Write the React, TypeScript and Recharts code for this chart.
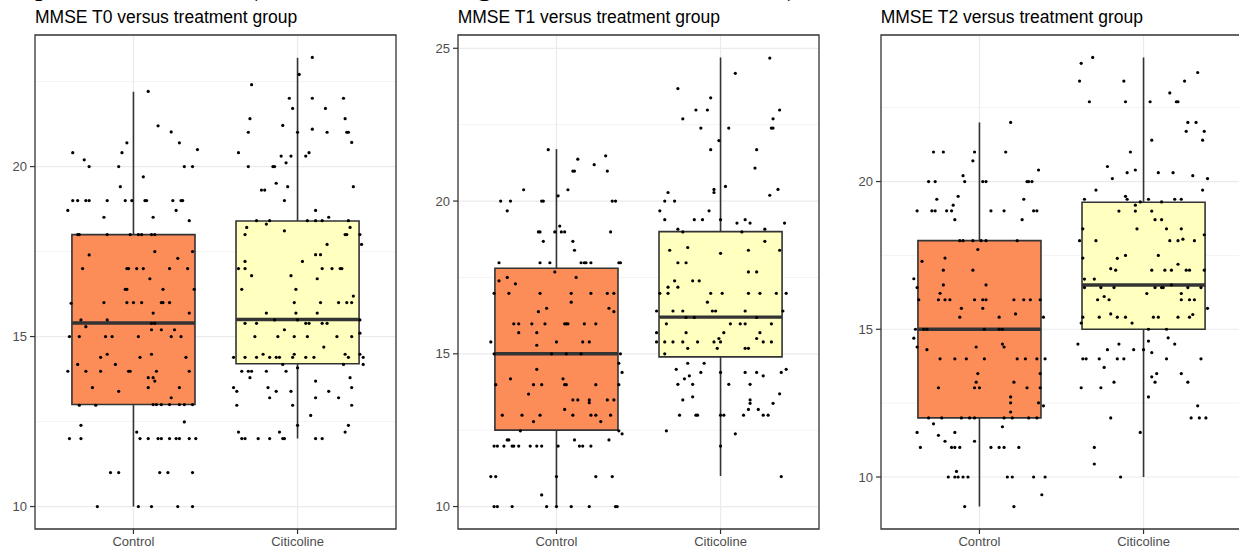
import React from 'react';
import { ComposedChart, Scatter, XAxis, YAxis, CartesianGrid, ReferenceArea, ReferenceLine } from 'recharts';

const groups = ['Control', 'Citicoline'];
const groupFills = ['#FC8D59', '#FFFFBF'];

// [lower whisker, Q1, median, Q3, upper whisker]
const t0Stats = [
  [10, 13, 15.4, 18, 22.2],
  [12, 14.2, 15.5, 18.4, 23.2],
];
const t1Stats = [
  [10, 12.5, 15, 17.8, 21.7],
  [11, 14.9, 16.2, 19, 24.7],
];
const t2Stats = [
  [9, 12, 15, 18, 22],
  [10, 15, 16.5, 19.3, 24.2],
];

const t0Ticks = [10, 15, 20];
const t1Ticks = [10, 15, 20, 25];
const t2Ticks = [10, 15, 20];
const t0Minor = [12.5, 17.5, 22.5];
const t1Minor = [12.5, 17.5, 22.5];
const t2Minor = [12.5, 17.5, 22.5];

// jittered points: [horizontal jitter, MMSE]
const t0Control = [
  [0.09, 22.21], [0.15, 21.2], [0.23, 21.02], [0.28, 20.7], [0.39, 20.5], [-0.37, 20.41], [-0.3, 20.2], [-0.27, 20.0], [-0.09, 20.0], [-0.07, 20.41], [-0.04, 20.7], [0.31, 20.0], [0.36, 20.0], [0.06, 19.7], [-0.08, 19.41],
  [-0.37, 19.0], [-0.34, 19.0], [-0.29, 19.0], [-0.27, 19.0], [-0.16, 19.0], [-0.05, 19.0], [-0.01, 19.0], [0.07, 19.0], [0.08, 19.0], [0.24, 19.0], [0.29, 19.0], [0.3, 19.0],
  [-0.4, 18.71], [0.26, 18.71], [-0.18, 18.51], [0.12, 18.51], [0.34, 18.41],
  [-0.34, 18.0], [-0.33, 18.0], [-0.16, 18.0], [-0.02, 18.0], [0.03, 18.0], [0.05, 18.0], [0.11, 18.0], [0.13, 18.0],
  [-0.27, 17.4], [0.13, 17.5], [0.27, 17.3], [0.36, 17.5],
  [-0.31, 17.0], [-0.04, 17.0], [-0.03, 17.0], [0.02, 17.0], [0.06, 17.0], [0.22, 17.0], [0.33, 17.0],
  [0.1, 16.7], [0.37, 16.39], [-0.05, 16.39], [-0.04, 16.39], [0.18, 16.39],
  [-0.38, 15.98], [-0.18, 16.0], [-0.04, 16.0], [0.0, 16.0], [0.05, 16.0], [0.17, 16.0], [0.18, 16.0], [0.22, 16.0],
  [0.34, 15.69], [0.12, 15.69], [-0.32, 15.49], [-0.16, 15.49], [-0.29, 15.29], [0.11, 15.39], [0.13, 15.39], [0.17, 15.2], [0.25, 15.2], [0.11, 15.2],
  [-0.39, 15.0], [-0.33, 15.0], [-0.17, 15.0], [-0.13, 15.0], [0.03, 15.0], [0.23, 15.0], [0.29, 15.0],
  [-0.16, 14.48], [0.11, 14.48], [-0.2, 14.39], [0.04, 14.39], [0.32, 14.39], [-0.34, 14.18], [-0.11, 14.18],
  [-0.4, 13.98], [-0.29, 13.98], [-0.2, 13.98], [-0.03, 13.98], [-0.02, 13.98], [0.14, 13.98], [0.34, 13.98],
  [0.09, 13.79], [0.12, 13.79], [0.13, 13.69], [-0.25, 13.5], [0.09, 13.5], [0.28, 13.5], [-0.09, 13.39], [0.23, 13.2],
  [-0.33, 12.98], [-0.23, 12.98], [0.12, 13.0], [0.14, 13.0], [0.17, 13.0], [0.22, 13.0], [0.28, 13.0], [0.31, 13.0], [0.36, 13.0],
  [0.31, 12.49], [-0.32, 12.39], [-0.39, 12.0], [-0.32, 12.0], [0.02, 12.19],
  [0.04, 12.0], [0.09, 12.0], [0.15, 12.0], [0.17, 12.0], [0.22, 12.0], [0.26, 12.0], [0.28, 12.0], [0.34, 12.0], [0.38, 12.0],
  [-0.14, 11.0], [-0.09, 11.0], [0.16, 11.0], [0.21, 11.0], [0.36, 11.0],
  [-0.22, 10.0], [0.03, 10.0], [0.11, 10.0], [0.27, 10.0], [0.36, 10.0],
];

const t0Citicoline = [
  [0.09, 23.21], [0.01, 22.71], [-0.28, 22.41], [-0.05, 22.01], [0.09, 22.01], [0.28, 22.01], [-0.03, 21.71], [0.17, 21.71], [-0.29, 21.41], [0.29, 21.41], [-0.09, 21.21],
  [-0.3, 21.01], [0.0, 21.01], [0.09, 21.1], [0.18, 21.01], [0.3, 21.01], [0.31, 21.01], [0.33, 20.71], [-0.36, 20.41],
  [-0.1, 20.31], [-0.04, 20.31], [0.05, 20.31], [0.07, 20.41], [-0.07, 20.11], [-0.3, 20.0], [-0.15, 20.0], [-0.14, 20.0],
  [-0.13, 19.51], [-0.06, 19.41], [0.34, 19.41], [-0.22, 19.31], [-0.2, 19.31], [-0.08, 19.0], [0.11, 18.71], [0.19, 18.51],
  [-0.25, 18.41], [-0.19, 18.31], [-0.17, 18.41], [0.06, 18.41], [0.11, 18.41], [0.15, 18.41], [0.31, 18.41],
  [-0.31, 18.21], [0.32, 18.21], [-0.08, 18.11], [-0.32, 18.0], [0.29, 18.0], [0.3, 18.0], [0.38, 18.0],
  [0.39, 17.71], [0.18, 17.71], [0.11, 17.41], [0.14, 17.41], [-0.32, 17.21], [0.03, 17.21],
  [-0.36, 17.0], [-0.32, 17.0], [0.15, 17.0], [0.21, 17.0], [0.26, 17.0], [0.27, 17.0], [0.12, 16.7],
  [-0.28, 16.79], [-0.34, 16.39], [-0.04, 16.79], [-0.01, 16.39], [0.34, 16.19],
  [-0.02, 16.0], [0.14, 16.0], [0.25, 16.0], [0.3, 16.0], [0.33, 16.0],
  [-0.19, 15.69], [-0.01, 15.69], [0.12, 15.69], [-0.14, 15.49], [0.0, 15.49],
  [-0.32, 15.39], [-0.25, 15.39], [0.05, 15.39], [0.07, 15.39], [0.15, 15.39], [0.18, 15.39], [0.38, 15.49], [0.38, 15.1], [-0.08, 15.2],
  [-0.26, 15.0], [-0.12, 15.0], [-0.02, 15.0], [0.06, 15.0], [0.24, 15.0], [0.33, 15.0],
  [0.16, 14.69], [-0.21, 14.48], [-0.02, 14.48], [0.29, 14.48], [0.38, 14.48],
  [-0.39, 14.39], [-0.32, 14.39], [-0.25, 14.39], [-0.17, 14.39], [-0.13, 14.39], [-0.11, 14.39], [-0.03, 14.39], [0.05, 14.39], [0.1, 14.39], [0.31, 14.39], [0.4, 14.39],
  [-0.09, 14.18], [0.28, 14.18], [0.4, 14.18],
  [-0.34, 13.98], [-0.3, 13.98], [-0.28, 13.98], [-0.19, 13.98], [-0.07, 13.98], [0.0, 14.08],
  [-0.29, 13.79], [0.32, 13.79], [0.11, 13.69], [-0.39, 13.5], [-0.18, 13.5], [0.33, 13.5],
  [-0.37, 13.39], [-0.13, 13.39], [-0.04, 13.39], [0.19, 13.39], [-0.17, 13.2], [0.11, 13.2], [0.25, 13.2],
  [-0.37, 12.98], [-0.03, 12.98], [0.33, 12.98], [0.08, 12.68], [0.0, 12.39], [0.31, 12.39],
  [-0.36, 12.19], [-0.11, 12.19], [0.29, 12.19],
  [-0.34, 12.0], [-0.32, 12.0], [-0.24, 12.0], [-0.17, 12.0], [-0.09, 12.0], [-0.08, 12.0], [0.11, 12.0], [0.15, 12.0],
];

const t1Control = [
  [-0.05, 21.68], [0.3, 21.48], [0.13, 21.37], [0.23, 21.19], [0.31, 20.98], [0.1, 20.98], [0.11, 20.98], [0.07, 20.37], [-0.2, 20.37], [0.01, 20.17],
  [-0.34, 20.0], [-0.28, 20.0], [-0.09, 20.0], [-0.08, 20.0], [0.34, 20.0], [0.36, 20.0], [-0.3, 19.68], [0.02, 19.18],
  [-0.11, 18.99], [-0.1, 18.99], [-0.01, 18.99], [0.03, 18.99], [0.05, 18.99], [0.33, 18.99], [-0.08, 18.68], [0.1, 18.68], [0.11, 18.39],
  [-0.35, 17.98], [-0.1, 17.98], [-0.04, 17.98], [0.15, 17.98], [0.17, 17.98], [0.18, 17.98], [0.21, 17.98], [0.38, 17.98], [0.39, 17.98], [-0.01, 17.68],
  [-0.3, 17.5], [-0.35, 17.39], [-0.25, 17.29], [0.12, 17.5],
  [-0.38, 16.98], [-0.29, 16.98], [-0.1, 16.98], [0.09, 16.98], [0.21, 16.98], [0.31, 16.98], [0.35, 16.98], [0.09, 16.69],
  [-0.11, 16.38], [-0.06, 16.49], [0.32, 16.49], [0.35, 16.38],
  [-0.26, 15.98], [-0.23, 15.98], [-0.15, 15.98], [-0.07, 15.98], [0.05, 15.98], [0.06, 15.98], [0.07, 15.98], [0.17, 15.98], [0.24, 15.98],
  [-0.23, 15.69], [-0.12, 15.69], [-0.4, 15.39], [-0.12, 15.28], [0.0, 15.39], [0.16, 15.39], [0.2, 15.39],
  [-0.38, 15.0], [-0.03, 15.0], [0.06, 15.0], [0.15, 15.0], [0.39, 15.0],
  [0.38, 14.69], [-0.12, 14.49], [0.4, 14.39], [-0.28, 14.18], [0.04, 14.18],
  [-0.37, 13.99], [-0.14, 13.99], [-0.09, 13.99], [0.05, 13.99], [0.06, 13.99], [0.24, 13.99], [0.38, 13.99],
  [-0.17, 13.68], [0.1, 13.49], [0.13, 13.49], [0.2, 13.49], [0.2, 13.4], [0.31, 13.49], [0.35, 13.49], [0.05, 13.18],
  [-0.33, 12.99], [-0.21, 12.99], [-0.1, 12.99], [0.1, 12.99], [0.21, 12.99], [0.24, 12.99], [0.33, 12.99],
  [-0.14, 12.78], [0.27, 12.78], [-0.22, 12.48], [0.38, 12.48], [0.4, 12.38],
  [-0.3, 12.18], [-0.29, 12.18], [0.11, 12.18], [0.32, 12.18],
  [-0.38, 11.98], [-0.36, 11.98], [-0.32, 11.98], [-0.27, 11.98], [-0.26, 11.98], [-0.23, 11.98], [-0.16, 11.98], [-0.12, 11.98], [-0.09, 11.98], [0.01, 11.98], [0.14, 11.98], [0.16, 11.98], [0.21, 11.98],
  [-0.4, 10.98], [-0.37, 10.98], [0.0, 10.98], [0.24, 10.98], [0.34, 10.98], [-0.09, 10.38],
  [-0.38, 10.0], [-0.36, 10.0], [-0.27, 10.0], [-0.06, 10.0], [0.0, 10.0], [0.09, 10.0], [0.2, 10.0], [0.36, 10.0], [0.37, 10.0],
];

const t1Citicoline = [
  [0.3, 24.68], [0.09, 24.18], [-0.26, 23.68], [-0.06, 23.38], [-0.15, 22.98], [-0.08, 22.98], [0.36, 22.98], [-0.23, 22.69], [0.32, 22.69],
  [-0.12, 22.39], [0.05, 22.39], [0.31, 22.39], [0.32, 22.39], [-0.01, 21.98], [-0.06, 21.68], [0.22, 21.68], [0.21, 21.08],
  [0.03, 20.48], [-0.04, 20.28], [-0.04, 20.38], [0.35, 20.38], [0.3, 20.19], [-0.32, 20.28], [-0.34, 20.0], [-0.28, 20.0], [-0.37, 19.68], [-0.07, 19.68],
  [-0.34, 19.39], [-0.16, 19.39], [-0.11, 19.39], [0.0, 19.39], [0.1, 19.28], [0.15, 19.39], [0.18, 19.28], [0.39, 19.28],
  [-0.26, 19.08], [-0.23, 18.99], [0.13, 18.99], [0.27, 19.08], [0.27, 18.68], [0.17, 18.39], [0.36, 18.39], [-0.31, 18.39], [-0.2, 18.48], [0.0, 18.29],
  [-0.26, 17.98], [-0.21, 17.98], [0.17, 17.68], [0.22, 17.68],
  [-0.28, 17.39], [-0.26, 17.18], [-0.32, 17.18], [-0.17, 17.39], [-0.13, 17.39],
  [-0.37, 16.98], [-0.32, 16.98], [-0.06, 16.98], [0.01, 16.98], [0.17, 16.98], [0.24, 16.98], [0.34, 16.98], [0.4, 16.98], [-0.08, 16.69],
  [-0.39, 16.4], [-0.29, 16.4], [-0.23, 16.4], [-0.05, 16.4], [-0.03, 16.4], [0.15, 16.4], [0.38, 16.4], [-0.21, 16.19], [-0.16, 16.19], [0.22, 16.19],
  [-0.33, 15.98], [0.06, 15.98], [0.12, 15.98], [0.15, 15.98], [0.31, 15.98], [-0.39, 15.69], [-0.21, 15.69], [0.24, 15.69], [0.02, 15.69],
  [-0.39, 15.39], [-0.34, 15.39], [-0.29, 15.39], [-0.23, 15.39], [-0.14, 15.39], [-0.04, 15.39], [-0.01, 15.5], [0.0, 15.39], [0.22, 15.5], [0.26, 15.39], [0.31, 15.39],
  [-0.2, 15.18], [-0.02, 15.18], [0.15, 15.18], [0.17, 15.18], [-0.34, 15.0],
  [-0.2, 14.69], [-0.1, 14.69], [-0.27, 14.49], [0.0, 14.39], [0.15, 14.39], [0.22, 14.39], [0.37, 14.39], [0.4, 14.49], [-0.12, 14.39],
  [-0.22, 14.18], [-0.19, 14.28], [0.26, 14.28], [-0.26, 14.0], [-0.17, 14.0], [0.05, 14.0], [0.18, 14.0],
  [-0.17, 13.59], [0.36, 13.69], [-0.23, 13.49], [0.18, 13.49], [0.18, 13.38], [0.32, 13.38], [0.23, 13.18], [0.17, 13.18],
  [-0.25, 12.99], [-0.15, 12.99], [-0.14, 12.99], [0.0, 12.99], [0.02, 12.99], [0.14, 12.99], [0.26, 12.99], [0.29, 12.99],
  [-0.33, 12.48], [0.09, 12.38], [0.0, 11.98], [0.37, 10.98],
];

const t2Control = [
  [0.19, 22.0], [-0.28, 21.0], [-0.22, 21.0], [-0.03, 21.0], [0.16, 21.0], [-0.04, 20.7], [0.36, 20.39], [-0.1, 20.2], [-0.09, 20.0],
  [-0.31, 20.0], [-0.27, 20.0], [0.02, 20.0], [0.04, 20.0], [0.29, 20.0], [0.3, 20.0], [0.32, 20.0],
  [-0.13, 19.5], [-0.26, 19.4], [0.27, 19.4], [-0.16, 19.2],
  [-0.38, 19.01], [-0.29, 19.01], [-0.27, 19.01], [-0.2, 19.01], [-0.17, 19.01], [0.07, 19.01], [0.15, 19.01], [0.33, 19.01], [0.35, 19.01],
  [-0.15, 18.71], [0.26, 18.71],
  [-0.12, 18.0], [-0.1, 18.0], [-0.04, 18.0], [0.01, 18.0], [0.04, 18.0], [0.23, 18.0], [-0.01, 17.7], [-0.35, 17.3], [-0.21, 17.41], [-0.22, 17.0], [-0.04, 17.0], [-0.4, 16.71],
  [-0.38, 16.41], [-0.22, 16.5], [-0.24, 16.22], [0.04, 16.5],
  [-0.37, 16.0], [-0.25, 16.0], [-0.21, 16.0], [-0.18, 16.0], [-0.03, 16.0], [0.02, 16.0], [0.04, 16.0], [0.21, 16.0], [0.27, 16.0], [0.31, 16.0], [0.37, 16.0],
  [-0.11, 15.71], [0.02, 15.71], [-0.12, 15.41], [0.12, 15.41], [0.22, 15.52], [0.39, 15.41],
  [-0.39, 15.0], [-0.34, 15.0], [-0.32, 15.0], [0.03, 15.0], [0.12, 15.0], [0.14, 15.0],
  [-0.4, 14.7], [-0.38, 14.4], [-0.32, 14.31], [-0.02, 14.4], [0.14, 14.5], [0.15, 14.4],
  [-0.24, 14.0], [-0.15, 14.0], [-0.08, 14.0], [0.03, 14.0], [0.23, 14.0], [0.28, 14.0], [0.35, 14.0], [0.4, 14.0],
  [-0.01, 13.5], [0.21, 13.21], [0.37, 13.5], [-0.02, 13.21], [-0.25, 13.02], [-0.03, 13.02], [0.0, 13.02], [0.29, 13.02], [0.37, 13.02],
  [0.19, 12.71], [0.19, 12.51], [0.19, 12.2], [0.36, 12.51], [0.39, 12.41],
  [-0.31, 12.0], [-0.23, 12.0], [-0.11, 12.0], [-0.06, 12.0], [-0.03, 12.0], [0.15, 12.0], [0.2, 12.0], [0.3, 12.0], [0.35, 12.0],
  [-0.28, 11.8], [0.14, 11.7], [-0.38, 11.51], [-0.25, 11.41], [-0.21, 11.21], [-0.15, 11.51], [-0.03, 11.21],
  [-0.36, 11.0], [-0.17, 11.0], [-0.15, 11.0], [-0.12, 11.0], [0.07, 11.0], [0.12, 11.0], [0.15, 11.0], [0.24, 11.0],
  [-0.14, 10.19], [-0.19, 10.0], [-0.15, 10.0], [-0.13, 10.0], [-0.1, 10.0], [-0.07, 10.0], [0.17, 10.0], [0.2, 10.0], [0.33, 10.0], [0.4, 10.0],
  [0.38, 9.4], [-0.09, 9.0], [0.21, 9.0],
];

const t2Citicoline = [
  [-0.31, 24.2], [-0.38, 24.0], [-0.39, 23.4], [-0.12, 23.4], [0.25, 23.4], [0.33, 23.69], [0.16, 23.0],
  [-0.33, 22.7], [-0.11, 22.7], [0.04, 22.7], [0.2, 22.7], [0.21, 22.7],
  [0.27, 22.0], [0.32, 22.0], [0.26, 21.7], [0.37, 21.7], [0.36, 21.4], [0.05, 21.4], [-0.08, 21.0],
  [-0.22, 20.51], [-0.1, 20.3], [-0.05, 20.39], [0.09, 20.3], [0.18, 20.3], [0.3, 20.2], [0.39, 20.1], [-0.19, 20.1],
  [-0.29, 19.71], [0.36, 19.71],
  [-0.36, 19.4], [-0.11, 19.5], [-0.1, 19.4], [-0.05, 19.2], [-0.02, 19.31], [0.03, 19.4], [0.11, 19.31], [0.19, 19.4], [0.23, 19.4],
  [-0.15, 19.0], [-0.05, 19.0], [0.05, 19.0], [0.07, 18.71], [0.11, 18.71],
  [0.14, 18.4], [0.23, 18.4], [-0.37, 18.4], [-0.04, 18.4], [0.37, 18.2],
  [-0.39, 18.0], [-0.29, 18.0], [0.16, 18.0], [0.21, 18.0], [0.24, 18.05], [0.31, 18.0],
  [-0.16, 17.4], [-0.11, 17.5], [0.09, 17.5], [-0.37, 17.41],
  [-0.2, 17.05], [-0.17, 17.0], [0.05, 17.0], [0.13, 17.0], [0.17, 17.0], [0.21, 17.2], [0.26, 17.0], [0.28, 17.0], [0.37, 17.0],
  [-0.36, 16.7], [-0.3, 16.7],
  [0.02, 16.21], [0.11, 16.41], [0.12, 16.41], [0.17, 16.5], [0.23, 16.21], [0.27, 16.41], [0.35, 16.41], [0.07, 16.41],
  [-0.36, 16.41], [-0.26, 16.41], [-0.18, 16.41],
  [-0.28, 16.0], [-0.24, 16.11], [-0.21, 16.0], [0.23, 16.0], [0.28, 16.0], [0.31, 16.0],
  [0.3, 15.5], [-0.2, 15.52], [0.39, 15.71],
  [-0.37, 15.41], [-0.27, 15.41], [-0.16, 15.41], [-0.11, 15.41], [0.06, 15.41], [0.09, 15.41], [0.21, 15.41], [0.28, 15.41],
  [-0.38, 15.21], [-0.07, 15.21], [0.03, 15.0], [0.14, 15.0],
  [0.15, 14.71], [0.19, 14.5], [-0.4, 14.5], [-0.22, 14.31], [-0.15, 14.5], [-0.06, 14.31], [0.0, 14.31], [0.03, 14.6], [0.05, 14.21], [0.14, 14.0],
  [-0.37, 14.0], [-0.35, 14.0], [-0.27, 14.0], [-0.16, 14.0], [-0.12, 14.0], [0.35, 14.0],
  [-0.24, 13.71], [-0.18, 13.21], [0.05, 13.39], [0.08, 13.5], [0.23, 13.5], [0.07, 13.21], [0.27, 13.21],
  [-0.38, 13.02], [-0.26, 13.02], [0.03, 12.71], [0.33, 12.41],
  [-0.2, 12.0], [0.29, 12.0], [0.34, 12.0], [0.38, 12.0],
  [-0.02, 11.51], [-0.3, 11.0], [-0.3, 10.44], [-0.14, 10.0],
];

const PLOT_W = 361;
const PLOT_H = 494;
const Y_AXIS_W = 40;
const X_AXIS_H = 22;
const FONT = '"Liberation Sans", Arial, sans-serif';
const INK = '#333333';

const Dot = (props: any) => <circle cx={props.cx} cy={props.cy} r={1.6} fill="#000000" />;

interface PanelProps {
  left: number;
  title: string;
  stats: number[][];
  points: number[][][];
  ticks: number[];
  minor: number[];
}

const Panel: React.FC<PanelProps> = ({ left, title, stats, points, ticks, minor }) => {
  const pts = points.flatMap((grp, gi) => grp.map(([dx, v]) => ({ x: gi + 1 + dx, y: v })));
  const values = pts.map(p => p.y).concat(stats.flat());
  const lo = Math.min(...values);
  const hi = Math.max(...values);
  const pad = (hi - lo) * 0.05;
  const domain = [lo - pad, hi + pad];

  const boxes = stats.flatMap(([mn, q1, med, q3, mx], i) => {
    const c = i + 1;
    return [
      <ReferenceLine key={`wu${i}`} segment={[{ x: c, y: q3 }, { x: c, y: mx }]} stroke={INK} strokeWidth={1.6} ifOverflow="visible" />,
      <ReferenceLine key={`wl${i}`} segment={[{ x: c, y: mn }, { x: c, y: q1 }]} stroke={INK} strokeWidth={1.6} ifOverflow="visible" />,
      <ReferenceArea key={`b${i}`} x1={c - 0.375} x2={c + 0.375} y1={q1} y2={q3} fill={groupFills[i]} fillOpacity={1} stroke={INK} strokeWidth={1.6} ifOverflow="visible" />,
      <ReferenceLine key={`m${i}`} segment={[{ x: c - 0.375, y: med }, { x: c + 0.375, y: med }]} stroke={INK} strokeWidth={3.4} ifOverflow="visible" />,
    ];
  });

  return (
    <>
      <div style={{ position: 'absolute', left, top: 9, font: `17.5px ${FONT}`, lineHeight: '17px', whiteSpace: 'nowrap', color: '#000000' }}>
        {title}
      </div>
      <div style={{ position: 'absolute', left: left - Y_AXIS_W, top: 33 }}>
        <ComposedChart
          width={Y_AXIS_W + PLOT_W + 4}
          height={2 + PLOT_H + X_AXIS_H}
          margin={{ top: 2, right: 4, bottom: 0, left: 0 }}
        >
          <CartesianGrid horizontalValues={minor} vertical={false} stroke="#EBEBEB" strokeWidth={0.6} />
          <CartesianGrid horizontalValues={ticks} verticalValues={[1, 2]} stroke="#EBEBEB" strokeWidth={1.2} />
          <XAxis
            type="number"
            dataKey="x"
            domain={[0.4, 2.6]}
            ticks={[1, 2]}
            interval={0}
            allowDataOverflow
            tickFormatter={(v: number) => groups[v - 1]}
            axisLine={false}
            tickSize={5}
            tickMargin={3}
            tickLine={{ stroke: INK, strokeWidth: 1.2 }}
            tick={{ fill: '#4D4D4D', fontSize: 13, fontFamily: FONT }}
            height={X_AXIS_H}
          />
          <YAxis
            type="number"
            dataKey="y"
            domain={domain}
            ticks={ticks}
            interval={0}
            allowDataOverflow
            axisLine={false}
            tickSize={5}
            tickMargin={3}
            tickLine={{ stroke: INK, strokeWidth: 1.2 }}
            tick={{ fill: '#4D4D4D', fontSize: 13, fontFamily: FONT }}
            width={Y_AXIS_W}
          />
          {boxes}
          <Scatter data={pts} dataKey="y" shape={Dot} isAnimationActive={false} />
          <ReferenceArea x1={0.4} x2={2.6} y1={domain[0]} y2={domain[1]} fill="none" stroke={INK} strokeWidth={1.3} ifOverflow="visible" />
        </ComposedChart>
      </div>
    </>
  );
};

// descender remnants of the figure caption above, cut off by the crop
const captionBits = [
  { ch: ')', x: -4 },
  { ch: 'p', x: 35 },
  { ch: '(', x: 248 },
  { ch: 'g', x: 477 },
  { ch: ')', x: 787 },
];

export default function App() {
  return (
    <div style={{ position: 'absolute', left: 0, top: 0, width: 1239, height: 550, overflow: 'hidden', background: '#ffffff' }}>
      {captionBits.map((b, i) => (
        <span key={i} style={{ position: 'absolute', left: b.x, top: -30, font: '30px "Liberation Serif", serif', lineHeight: '30px', color: '#000' }}>
          {b.ch}
        </span>
      ))}
      <Panel left={35} title="MMSE T0 versus treatment group" stats={t0Stats} points={[t0Control, t0Citicoline]} ticks={t0Ticks} minor={t0Minor} />
      <Panel left={457.7} title="MMSE T1 versus treatment group" stats={t1Stats} points={[t1Control, t1Citicoline]} ticks={t1Ticks} minor={t1Minor} />
      <Panel left={880.7} title="MMSE T2 versus treatment group" stats={t2Stats} points={[t2Control, t2Citicoline]} ticks={t2Ticks} minor={t2Minor} />
    </div>
  );
}
